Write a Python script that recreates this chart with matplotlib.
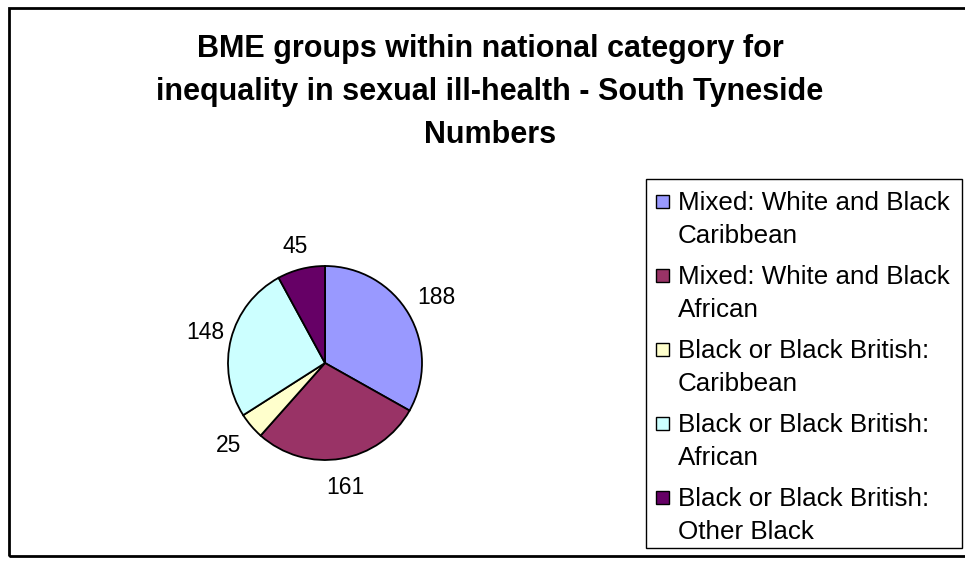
import numpy as np
import matplotlib
matplotlib.use("Agg")
import matplotlib.pyplot as plt
from matplotlib.patches import Rectangle

categories = [
    ["Mixed: White and Black", "Caribbean"],
    ["Mixed: White and Black", "African"],
    ["Black or Black British:", "Caribbean"],
    ["Black or Black British:", "African"],
    ["Black or Black British:", "Other Black"],
]
values = [188, 161, 25, 148, 45]
colors = ["#9999FF", "#993366", "#FFFFCC", "#CCFFFF", "#660066"]
title_lines = ["BME groups within national category for",
               "inequality in sexual ill-health - South Tyneside",
               "Numbers"]

plt.rcParams['font.family'] = ['Liberation Sans', 'DejaVu Sans']

W, H = 965, 568
fig = plt.figure(figsize=(W / 100, H / 100), dpi=100)

def fx(px):
    return px / W

def fy(py):
    return 1 - py / H

# outer chart border (right edge runs off canvas)
fig.patches.append(Rectangle((fx(9), fy(556)), fx(975 - 9), fy(8) - fy(556),
                             transform=fig.transFigure, fill=False,
                             edgecolor="black", linewidth=2.0))

# title, one line at a time
for i, line in enumerate(title_lines):
    fig.text(fx(490), fy(57 + 43 * i), line, ha="center", va="baseline",
             fontsize=22, fontweight="bold")

# pie
cx, cy, r = 325, 363, 97
ax = fig.add_axes([fx(cx - r), fy(cy + r), fx(2 * r), fy(cy - r) - fy(cy + r)])
wedges, _ = ax.pie(values, colors=colors, startangle=90, counterclock=False,
                   wedgeprops=dict(edgecolor="black", linewidth=1.3))
ax.set_xlim(-1, 1)
ax.set_ylim(-1, 1)
ax.set_aspect("equal")
ax.axis("off")

# value labels placed outside each wedge, along its mid direction
dist = [1.33, 1.30, 1.31, 1.27, 1.24]
for w, v, d in zip(wedges, values, dist):
    ang = np.deg2rad((w.theta1 + w.theta2) / 2)
    ax.text(d * np.cos(ang), d * np.sin(ang), str(v), ha="center", va="center",
            fontsize=16.5, clip_on=False)

# legend (drawn by hand to match the boxed two-line entries)
lx0, ly0, lx1, ly1 = 646, 179, 962, 548
fig.patches.append(Rectangle((fx(lx0), fy(ly1)), fx(lx1 - lx0), fy(ly0) - fy(ly1),
                             transform=fig.transFigure, fill=True, facecolor="white",
                             edgecolor="black", linewidth=1.0))
pitch = 74
for i, (lines, col) in enumerate(zip(categories, colors)):
    base = 210 + i * pitch
    sq = 13
    fig.patches.append(Rectangle((fx(656), fy(base - 2)), fx(sq), fy(base - 2 - sq) - fy(base - 2),
                                 transform=fig.transFigure, facecolor=col,
                                 edgecolor="black", linewidth=1.0))
    for j, line in enumerate(lines):
        fig.text(fx(678), fy(base + 33 * j), line, ha="left", va="baseline",
                 fontsize=18.7)

fig.savefig("out.png", dpi=100)
